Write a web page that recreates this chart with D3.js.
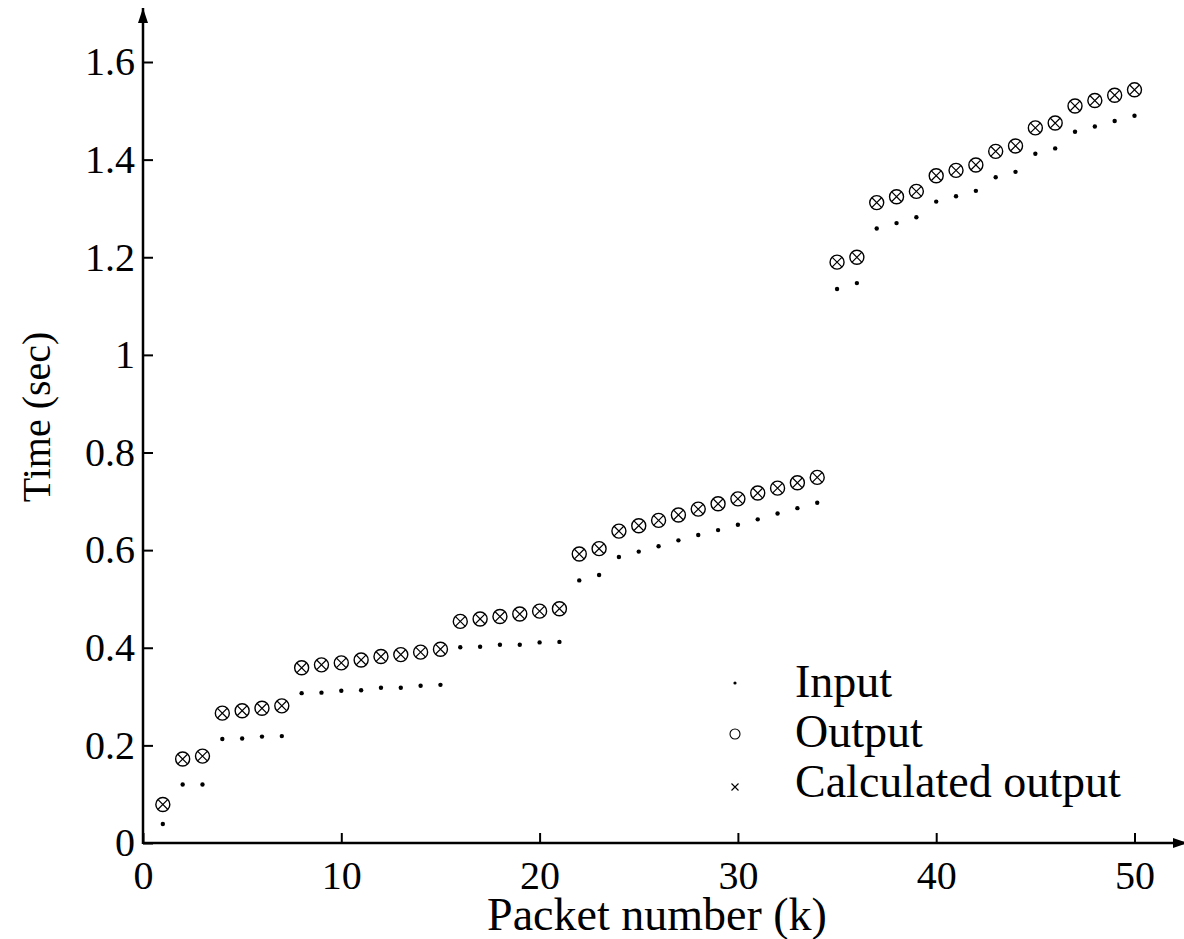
<!DOCTYPE html>
<html>
<head>
<meta charset="utf-8">
<script src="https://cdn.jsdelivr.net/npm/d3@7"></script>
<style>
  body { margin: 0; background: #fff; }
  svg { display: block; }
  text { font-family: "Liberation Serif", "Times New Roman", serif; fill: #000; }
</style>
</head>
<body>
<div id="chart"></div>
<script>
// packet index k
const packets = d3.range(1, 51)

// input time (sec)
const inputTimes = [
  0.039, 0.120, 0.120, 0.213, 0.214, 0.218, 0.219, 0.307, 0.308, 0.312,
  0.313, 0.318, 0.318, 0.322, 0.324, 0.401, 0.402, 0.406, 0.406, 0.411,
  0.412, 0.538, 0.549, 0.586, 0.597, 0.608, 0.620, 0.631, 0.641, 0.652,
  0.663, 0.675, 0.686, 0.697, 1.135, 1.147, 1.259, 1.270, 1.282, 1.314,
  1.325, 1.336, 1.364, 1.375, 1.412, 1.423, 1.457, 1.468, 1.479, 1.490
]

// measured output time (sec)
const outputTimes = [
  0.079, 0.172, 0.178, 0.266, 0.271, 0.276, 0.281, 0.359, 0.365, 0.369,
  0.375, 0.382, 0.386, 0.391, 0.397, 0.454, 0.459, 0.464, 0.469, 0.475,
  0.480, 0.592, 0.603, 0.639, 0.650, 0.661, 0.672, 0.684, 0.695, 0.705,
  0.717, 0.727, 0.738, 0.749, 1.190, 1.200, 1.312, 1.324, 1.335, 1.367,
  1.378, 1.389, 1.417, 1.428, 1.465, 1.475, 1.510, 1.521, 1.532, 1.543
]

// calculated output time (sec)
const calculatedTimes = [
  0.079, 0.172, 0.178, 0.266, 0.271, 0.276, 0.281, 0.359, 0.365, 0.369,
  0.375, 0.382, 0.386, 0.391, 0.397, 0.454, 0.459, 0.464, 0.469, 0.475,
  0.480, 0.592, 0.603, 0.639, 0.650, 0.661, 0.672, 0.684, 0.695, 0.705,
  0.717, 0.727, 0.738, 0.749, 1.190, 1.200, 1.312, 1.324, 1.335, 1.367,
  1.378, 1.389, 1.417, 1.428, 1.465, 1.475, 1.510, 1.521, 1.532, 1.543
]

const xTicks = [0, 10, 20, 30, 40, 50]
const yTicks = [0, 0.2, 0.4, 0.6, 0.8, 1, 1.2, 1.4, 1.6]
const legendLabels = ['Input', 'Output', 'Calculated output']

const WIDTH = 1184
const HEIGHT = 939
const X0 = 143, Y0 = 843

const svg = d3.select('#chart')
  .append('svg')
  .attr('width', WIDTH)
  .attr('height', HEIGHT)

const x = d3.scaleLinear().domain([0, 50]).range([X0, 1134.5])
const y = d3.scaleLinear().domain([0, 1.6]).range([Y0, 62])

// arrow heads
const defs = svg.append('defs')
defs.append('marker')
  .attr('id', 'arrow')
  .attr('viewBox', '0 0 15 10')
  .attr('refX', 15).attr('refY', 5)
  .attr('markerWidth', 15).attr('markerHeight', 10)
  .attr('markerUnits', 'userSpaceOnUse')
  .attr('orient', 'auto')
  .append('path')
  .attr('d', 'M0,0 L15,5 L0,10 Z')
  .attr('fill', '#000')

// X axis
svg.append('g')
  .attr('transform', `translate(0,${Y0})`)
  .call(d3.axisBottom(x).tickValues(xTicks).tickSizeInner(-10).tickSizeOuter(0).tickPadding(18))
  .call(sel => sel.select('.domain').remove())
  .call(sel => sel.selectAll('.tick line').attr('stroke', '#000').attr('stroke-width', 2))
  .call(sel => sel.selectAll('.tick text')
    .style('font-size', '40px')
    .style('font-family', '"Liberation Serif", "Times New Roman", serif')
    .attr('fill', '#000'))

// Y axis
svg.append('g')
  .attr('transform', `translate(${X0},0)`)
  .call(d3.axisLeft(y).tickValues(yTicks).tickSizeInner(-10).tickSizeOuter(0).tickPadding(8)
    .tickFormat(d => String(d)))
  .call(sel => sel.select('.domain').remove())
  .call(sel => sel.selectAll('.tick line').attr('stroke', '#000').attr('stroke-width', 2))
  .call(sel => sel.selectAll('.tick text')
    .style('font-size', '40px')
    .style('font-family', '"Liberation Serif", "Times New Roman", serif')
    .attr('fill', '#000'))

// axis lines with arrows
svg.append('line')
  .attr('x1', X0).attr('y1', Y0).attr('x2', WIDTH + 4).attr('y2', Y0)
  .attr('stroke', '#000').attr('stroke-width', 2.5)
  .attr('marker-end', 'url(#arrow)')
svg.append('line')
  .attr('x1', X0).attr('y1', Y0 + 1).attr('x2', X0).attr('y2', 8)
  .attr('stroke', '#000').attr('stroke-width', 2.5)
  .attr('marker-end', 'url(#arrow)')

// axis titles
svg.append('text')
  .attr('x', 657).attr('y', 930)
  .attr('text-anchor', 'middle')
  .style('font-size', '46px')
  .text('Packet number (k)')

svg.append('text')
  .attr('transform', 'translate(50,417) rotate(-90)')
  .attr('text-anchor', 'middle')
  .style('font-size', '40px')
  .text('Time (sec)')

// output circles
svg.append('g')
  .selectAll('circle')
  .data(packets)
  .join('circle')
  .attr('cx', (d, i) => x(d))
  .attr('cy', (d, i) => y(outputTimes[i]))
  .attr('r', 7)
  .attr('fill', 'none')
  .attr('stroke', '#000')
  .attr('stroke-width', 1.4)

// calculated output crosses
const cs = 4.8
svg.append('g')
  .selectAll('path')
  .data(packets)
  .join('path')
  .attr('transform', (d, i) => `translate(${x(d)},${y(calculatedTimes[i])})`)
  .attr('d', `M${-cs},${-cs}L${cs},${cs}M${-cs},${cs}L${cs},${-cs}`)
  .attr('stroke', '#000')
  .attr('stroke-width', 1.2)
  .attr('fill', 'none')

// input dots
svg.append('g')
  .selectAll('circle')
  .data(packets)
  .join('circle')
  .attr('cx', (d, i) => x(d))
  .attr('cy', (d, i) => y(inputTimes[i]))
  .attr('r', 2.2)
  .attr('fill', '#000')

// Legend
const legend = svg.append('g')
const rowY = [697, 747, 797]

legend.selectAll('text')
  .data(legendLabels)
  .join('text')
  .attr('x', 795)
  .attr('y', (d, i) => rowY[i])
  .style('font-size', '46px')
  .text(d => d)

legend.append('circle')
  .attr('cx', 735).attr('cy', 683).attr('r', 1.6).attr('fill', '#000')
legend.append('circle')
  .attr('cx', 735).attr('cy', 734).attr('r', 5)
  .attr('fill', 'none').attr('stroke', '#000').attr('stroke-width', 1.1)
legend.append('path')
  .attr('transform', 'translate(735,787)')
  .attr('d', 'M-3.5,-3.5L3.5,3.5M-3.5,3.5L3.5,-3.5')
  .attr('stroke', '#000').attr('stroke-width', 1.1)
</script>
</body>
</html>
